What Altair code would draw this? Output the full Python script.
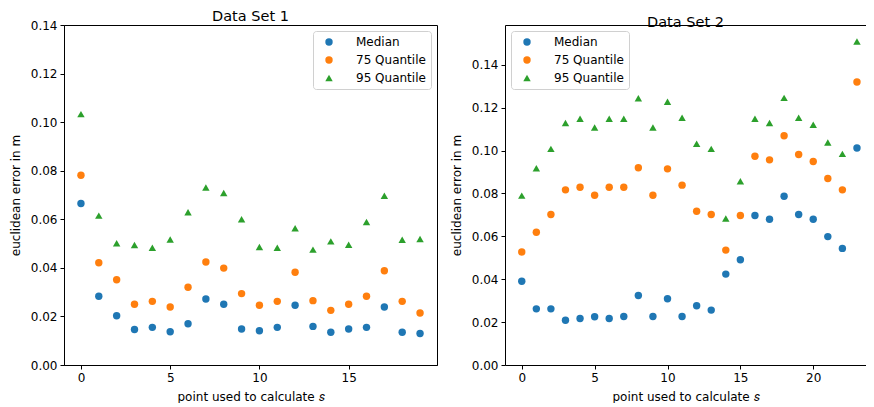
import altair as alt
import pandas as pd

series_names = ["Median", "75 Quantile", "95 Quantile"]
series_colors = ["#1f77b4", "#ff7f0e", "#2ca02c"]
series_shapes = ["circle", "circle", "triangle-up"]
series_sizes = [55, 55, 95]

left_median = [0.0665, 0.0283, 0.0203, 0.0146, 0.0155, 0.0137, 0.0170, 0.0272, 0.0250, 0.0148,
               0.0141, 0.0155, 0.0246, 0.0159, 0.0135, 0.0148, 0.0155, 0.0239, 0.0135, 0.0130]
left_q75 = [0.0781, 0.0421, 0.0351, 0.0250, 0.0262, 0.0239, 0.0320, 0.0424, 0.0399, 0.0294,
            0.0246, 0.0262, 0.0382, 0.0265, 0.0225, 0.0250, 0.0283, 0.0388, 0.0262, 0.0214]
left_q95 = [0.1033, 0.0615, 0.0501, 0.0494, 0.0483, 0.0517, 0.0629, 0.0731, 0.0708, 0.0600,
            0.0486, 0.0483, 0.0563, 0.0475, 0.0509, 0.0495, 0.0589, 0.0697, 0.0516, 0.0519]

right_median = [0.0391, 0.0262, 0.0262, 0.0209, 0.0217, 0.0225, 0.0217, 0.0226, 0.0324, 0.0226,
                0.0309, 0.0226, 0.0276, 0.0256, 0.0424, 0.0491, 0.0697, 0.0680, 0.0787, 0.0702,
                0.0680, 0.0599, 0.0544, 0.1012]
right_q75 = [0.0527, 0.0619, 0.0702, 0.0817, 0.0829, 0.0792, 0.0829, 0.0829, 0.0920, 0.0792,
             0.0915, 0.0839, 0.0717, 0.0702, 0.0536, 0.0697, 0.0974, 0.0957, 0.1069, 0.0982,
             0.0949, 0.0870, 0.0817, 0.1320]
right_q95 = [0.0790, 0.0918, 0.1008, 0.1129, 0.1149, 0.1108, 0.1149, 0.1149, 0.1244, 0.1108,
             0.1228, 0.1153, 0.1032, 0.1008, 0.0683, 0.0857, 0.1149, 0.1129, 0.1246, 0.1153,
             0.1121, 0.1038, 0.0985, 0.1509]

y_ticks = [0.0, 0.02, 0.04, 0.06, 0.08, 0.10, 0.12, 0.14]
left_x_ticks = [0, 5, 10, 15]
right_x_ticks = [0, 5, 10, 15, 20]

FONT = "DejaVu Sans"


def make_df(med, q75, q95):
    rows = []
    for name, vals in zip(series_names, [med, q75, q95]):
        for i, v in enumerate(vals):
            rows.append({"point": i, "value": v, "series": name})
    return pd.DataFrame(rows)


def legend(orient):
    return alt.Legend(
        title=None, orient=orient, offset=6,
        labelFont=FONT, labelFontSize=12, labelColor="black",
        symbolStrokeWidth=0, symbolOffset=5,
        labelOffset=21, rowPadding=6, padding=5,
        strokeColor="#d0d0d0", fillColor="rgba(255,255,255,0.8)", cornerRadius=3,
    )


def panel(df, title, xdom, ydom, xticks, legend_orient, width, spines_full):
    xscale = alt.Scale(domain=xdom, nice=False, zero=False)
    yscale = alt.Scale(domain=ydom, nice=False, zero=False)
    ttl = alt.Title(title, font=FONT, fontSize=14.5, fontWeight="normal", color="black",
                    offset=-8, dy=-3)
    pts = alt.Chart(df).mark_point(filled=True, opacity=1).encode(
        x=alt.X("point:Q", scale=xscale,
                axis=alt.Axis(values=xticks, title="point used to calculate 𝑠")),
        y=alt.Y("value:Q", scale=yscale,
                axis=alt.Axis(values=y_ticks, format=".2f", title="euclidean error in m")),
        color=alt.Color("series:N", scale=alt.Scale(domain=series_names, range=series_colors),
                        legend=legend(legend_orient)),
        shape=alt.Shape("series:N", scale=alt.Scale(domain=series_names, range=series_shapes),
                        legend=legend(legend_orient)),
        size=alt.Size("series:N", scale=alt.Scale(domain=series_names, range=series_sizes),
                      legend=legend(legend_orient)),
    )
    if spines_full:
        return alt.layer(pts).properties(width=width, height=340, title=ttl)
    top = alt.Chart(df).mark_point(opacity=0).encode(
        x=alt.X("point:Q", scale=xscale,
                axis=alt.Axis(orient="top", labels=False, ticks=False, title=None, domain=True)),
        y=alt.Y("value:Q", scale=yscale, axis=None),
    )
    return alt.layer(pts, top).resolve_axis(x="independent", y="independent").properties(
        width=width, height=340, view=alt.ViewConfig(stroke=None), title=ttl,
    )


left = panel(make_df(left_median, left_q75, left_q95), "Data Set 1",
             [-0.95, 19.95], [0.0, 0.14], left_x_ticks, "top-right", 373, True)
right = panel(make_df(right_median, right_q75, right_q95), "Data Set 2",
              [-1.15, 23.62], [0.0, 0.1586], right_x_ticks, "top-left", 361, False)

chart = alt.hconcat(left, right, spacing=12).resolve_legend(
    color="independent", shape="independent", size="independent"
).resolve_scale(color="independent", shape="independent", size="independent").configure(
    padding=0
).configure_view(
    stroke="black", strokeWidth=1
).configure_axis(
    grid=False, domainColor="black", domainWidth=1, tickColor="black", tickSize=4,
    labelFont=FONT, labelFontSize=12, labelColor="black", labelPadding=3,
    titleFont=FONT, titleFontSize=12, titleColor="black", titleFontWeight="normal",
    titlePadding=6,
).configure_axisY(titlePadding=8).configure_axisX(titlePadding=8)

chart.save("out.html", embed_options={"renderer": "svg", "actions": False})
